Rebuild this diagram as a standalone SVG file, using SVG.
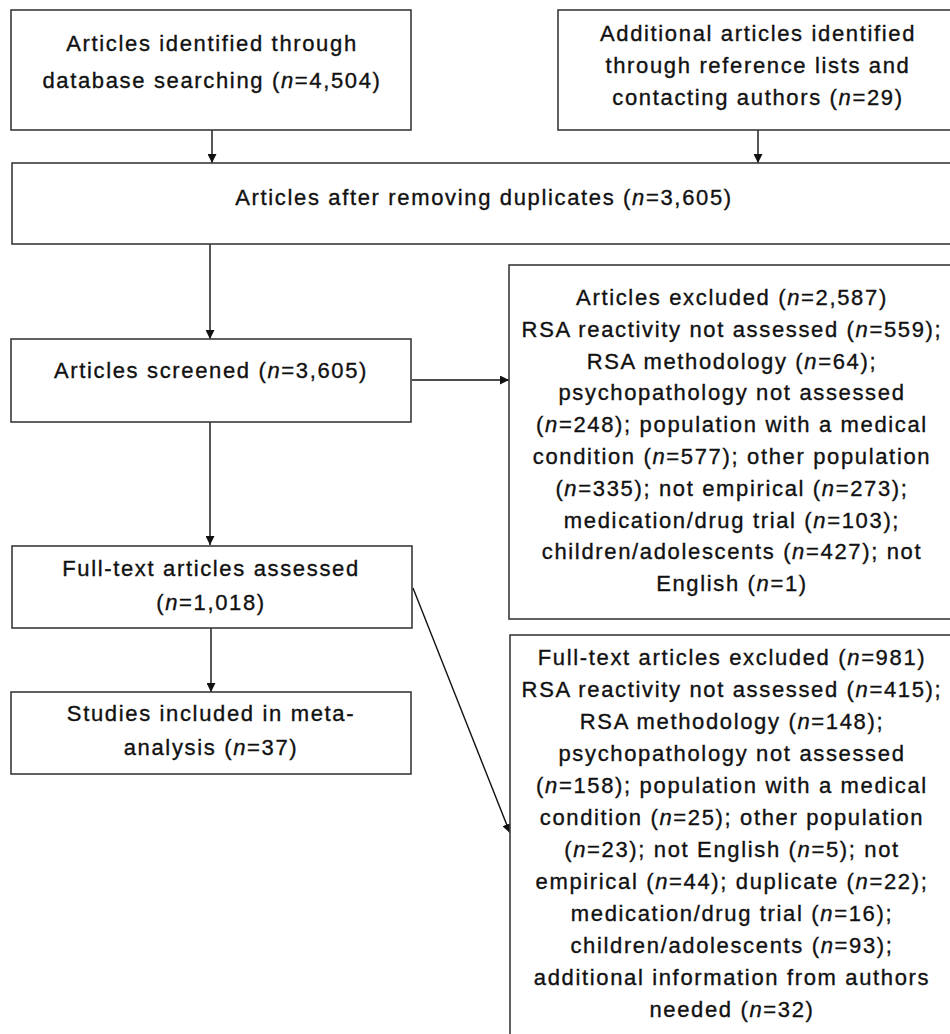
<svg xmlns="http://www.w3.org/2000/svg" width="950" height="1034" viewBox="0 0 950 1034">
<style>
.box{fill:#fff;stroke:#3a3a3a;stroke-width:1.6}
.t{font-family:"Liberation Sans",Arial,sans-serif;font-size:22px;letter-spacing:1.65px;fill:#111;stroke:#111;stroke-width:0.35;text-anchor:middle}
.i{font-style:italic}
.c{stroke:#111;stroke-width:1.4;fill:none;marker-end:url(#ah)}
</style>
<defs>
<marker id="ah" viewBox="0 0 10 10" refX="10" refY="5" markerWidth="9" markerHeight="9" markerUnits="userSpaceOnUse" orient="auto">
<path d="M0,0 L10,5 L0,10 z" fill="#111"/>
</marker>
</defs>
<rect width="950" height="1034" fill="#fff"/>
<g id="connectors">
<line class="c" x1="212" y1="130" x2="212" y2="163"/>
<line class="c" x1="758" y1="130" x2="758" y2="163"/>
<line class="c" x1="210" y1="244" x2="210" y2="339"/>
<line class="c" x1="210" y1="422" x2="210" y2="545"/>
<line class="c" x1="412" y1="380" x2="509" y2="380"/>
<line class="c" x1="211" y1="628" x2="211" y2="692"/>
<line class="c" x1="413" y1="588" x2="510" y2="833"/>
</g>
<g id="identified">
<rect class="box" x="11" y="10" width="400" height="120"/>
<text class="t" x="212" y="51">Articles identified through</text>
<text class="t" x="212" y="88">database searching (<tspan class="i">n</tspan>=4,504)</text>
</g>
<g id="additional">
<rect class="box" x="558" y="10" width="420" height="120"/>
<text class="t" x="758" y="41">Additional articles identified</text>
<text class="t" x="758" y="73">through reference lists and</text>
<text class="t" x="758" y="105">contacting authors (<tspan class="i">n</tspan>=29)</text>
</g>
<g id="deduplicated">
<rect class="box" x="12" y="163" width="966" height="81"/>
<text class="t" x="484" y="205">Articles after removing duplicates (<tspan class="i">n</tspan>=3,605)</text>
</g>
<g id="screened">
<rect class="box" x="11" y="339" width="400" height="83"/>
<text class="t" x="211" y="378">Articles screened (<tspan class="i">n</tspan>=3,605)</text>
</g>
<g id="excluded">
<rect class="box" x="509" y="265" width="470" height="354"/>
<text class="t" x="732" y="305">Articles excluded (<tspan class="i">n</tspan>=2,587)</text>
<text class="t" x="732" y="336.8">RSA reactivity not assessed (<tspan class="i">n</tspan>=559);</text>
<text class="t" x="732" y="368.6">RSA methodology (<tspan class="i">n</tspan>=64);</text>
<text class="t" x="732" y="400.4">psychopathology not assessed</text>
<text class="t" x="732" y="432.2">(<tspan class="i">n</tspan>=248); population with a medical</text>
<text class="t" x="732" y="464">condition (<tspan class="i">n</tspan>=577); other population</text>
<text class="t" x="732" y="495.8">(<tspan class="i">n</tspan>=335); not empirical (<tspan class="i">n</tspan>=273);</text>
<text class="t" x="732" y="527.6">medication/drug trial (<tspan class="i">n</tspan>=103);</text>
<text class="t" x="732" y="559.4">children/adolescents (<tspan class="i">n</tspan>=427); not</text>
<text class="t" x="732" y="591.2">English (<tspan class="i">n</tspan>=1)</text>
</g>
<g id="fulltext">
<rect class="box" x="12" y="546" width="400" height="82"/>
<text class="t" x="211" y="576">Full-text articles assessed</text>
<text class="t" x="211" y="610">(<tspan class="i">n</tspan>=1,018)</text>
</g>
<g id="included">
<rect class="box" x="11" y="692" width="400" height="82"/>
<text class="t" x="211" y="721">Studies included in meta-</text>
<text class="t" x="211" y="755">analysis (<tspan class="i">n</tspan>=37)</text>
</g>
<g id="fulltext-excluded">
<rect class="box" x="510" y="635" width="470" height="420"/>
<text class="t" x="732" y="665">Full-text articles excluded (<tspan class="i">n</tspan>=981)</text>
<text class="t" x="732" y="697">RSA reactivity not assessed (<tspan class="i">n</tspan>=415);</text>
<text class="t" x="732" y="729">RSA methodology (<tspan class="i">n</tspan>=148);</text>
<text class="t" x="732" y="761">psychopathology not assessed</text>
<text class="t" x="732" y="793">(<tspan class="i">n</tspan>=158); population with a medical</text>
<text class="t" x="732" y="825">condition (<tspan class="i">n</tspan>=25); other population</text>
<text class="t" x="732" y="857">(<tspan class="i">n</tspan>=23); not English (<tspan class="i">n</tspan>=5); not</text>
<text class="t" x="732" y="889">empirical (<tspan class="i">n</tspan>=44); duplicate (<tspan class="i">n</tspan>=22);</text>
<text class="t" x="732" y="921">medication/drug trial (<tspan class="i">n</tspan>=16);</text>
<text class="t" x="732" y="953">children/adolescents (<tspan class="i">n</tspan>=93);</text>
<text class="t" x="732" y="985">additional information from authors</text>
<text class="t" x="732" y="1017">needed (<tspan class="i">n</tspan>=32)</text>
</g>
</svg>
